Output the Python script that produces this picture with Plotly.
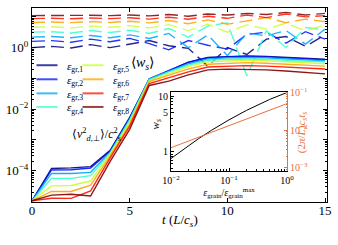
import plotly.graph_objects as go

# ---------------- data ----------------
t = list(range(16))
labels = ["<i>ε</i><sub>gr,%d</sub>" % i for i in range(1, 9)]
colors = ["#000080", "#0012ff", "#00a4ff", "#36ffc8", "#c8ff36", "#ffa400", "#ff1200", "#800000"]

# <v_{d,perp}^2>/c_s^2 (solid lines)
v2_e1 = [1.05e-5, 1.18e-4, 1.23e-4, 1.35e-4, 4.6e-4, 5.4e-3, 0.091, 0.175, 0.34, 0.48, 0.52, 0.54, 0.52, 0.48, 0.45, 0.42]
v2_e2 = [1.05e-5, 1.05e-4, 1.07e-4, 1.22e-4, 4.3e-4, 5.0e-3, 0.098, 0.18, 0.33, 0.47, 0.50, 0.52, 0.50, 0.47, 0.43, 0.40]
v2_e3 = [1.05e-5, 8.1e-5, 8.1e-5, 8.8e-5, 4.0e-4, 4.7e-3, 0.098, 0.175, 0.30, 0.43, 0.47, 0.48, 0.47, 0.43, 0.40, 0.376]
v2_e4 = [1.05e-5, 5.6e-5, 5.6e-5, 6.9e-5, 3.7e-4, 4.4e-3, 0.091, 0.163, 0.27, 0.39, 0.42, 0.43, 0.42, 0.39, 0.36, 0.34]
v2_e5 = [1.05e-5, 3.2e-5, 3.3e-5, 4.6e-5, 3.5e-4, 3.8e-3, 0.085, 0.146, 0.243, 0.35, 0.376, 0.39, 0.376, 0.35, 0.325, 0.30]
v2_e6 = [1.05e-5, 2.1e-5, 2.1e-5, 3.4e-5, 3.0e-4, 3.2e-3, 0.079, 0.126, 0.203, 0.29, 0.31, 0.325, 0.31, 0.29, 0.27, 0.25]
v2_e7 = [1.05e-5, 1.27e-5, 1.25e-5, 2.2e-5, 2.6e-4, 2.8e-3, 0.068, 0.106, 0.163, 0.234, 0.25, 0.26, 0.25, 0.234, 0.218, 0.203]
v2_e8 = [1.05e-5, 1.6e-5, 1.7e-5, 1.5e-5, 2.0e-4, 2.2e-3, 0.059, 0.082, 0.13, 0.19, 0.20, 0.20, 0.19, 0.175, 0.157, 0.14]

# <w_s> (dashed lines)
ws_e1 = [1.0, 1.1, 0.98, 1.25, 1.0, 1.3, 1.7, 1.15, 0.95, 0.25, 1.0, 0.6, 1.9, 2.3, 1.1, 2.6]
ws_e2 = [1.6, 1.7, 1.5, 1.9, 1.55, 2.0, 1.35, 0.85, 1.7, 1.2, 0.9, 2.7, 3.2, 1.4, 3.3, 1.9]
ws_e3 = [2.2, 2.3, 2.1, 2.5, 2.1, 2.6, 2.0, 2.9, 1.0, 2.6, 0.55, 3.0, 2.4, 3.6, 1.3, 4.0]
ws_e4 = [3.2, 3.3, 3.0, 3.6, 3.1, 3.7, 2.9, 4.2, 2.2, 5.0, 6.5, 0.12, 3.5, 1.0, 4.5, 3.8]
ws_e5 = [4.6, 4.8, 4.4, 5.0, 4.6, 5.2, 4.4, 5.6, 3.6, 5.8, 3.2, 5.5, 4.0, 6.3, 3.5, 5.5]
ws_e6 = [6.6, 6.8, 6.5, 7.0, 6.6, 7.2, 6.4, 7.6, 6.0, 8.0, 5.8, 7.5, 9.5, 6.5, 8.5, 7.0]
ws_e7 = [8.8, 9.0, 8.7, 9.2, 8.8, 9.4, 8.5, 9.8, 8.4, 10.5, 9.0, 11.5, 9.5, 12.5, 10.0, 11.0]
ws_e8 = [11.0, 11.2, 10.9, 11.3, 11.0, 11.5, 10.8, 12.0, 10.5, 12.5, 11.5, 13.0, 12.0, 14.0, 11.5, 13.0]

v2_all = [v2_e1, v2_e2, v2_e3, v2_e4, v2_e5, v2_e6, v2_e7, v2_e8]
ws_all = [ws_e1, ws_e2, ws_e3, ws_e4, ws_e5, ws_e6, ws_e7, ws_e8]

# inset
eps_ratio = [0.01, 0.02, 0.03, 0.05, 0.1, 0.2, 0.3, 0.5, 1.0]
ws_inset = [0.75, 1.28, 1.72, 2.43, 3.75, 5.55, 6.85, 8.75, 11.7]
ts_inset = [3.4e-3, 5.1e-3, 6.5e-3, 8.75e-3, 0.0132, 0.0198, 0.0252, 0.0341, 0.0513]

main_yticks = [1e-5, 1e-4, 1e-3, 1e-2, 1e-1, 1, 10]
main_yticktext = ["", "10<sup>−4</sup>", "", "10<sup>−2</sup>", "", "10<sup>0</sup>", ""]
main_xticks = [0, 5, 10, 15]

# ---------------- figure ----------------
FONT = "Liberation Serif"
ORANGE = "#e8703a"
W, H = 338, 245
L, R, T, B = 32, 11, 2, 43
PW, PH = W - L - R, H - T - B


def px2x(px):
    return (px - L) / PW


def px2y(py):
    return (H - B - py) / PH


fig = go.Figure()

for i in range(8):
    fig.add_trace(go.Scatter(x=t, y=ws_all[i], mode="lines", showlegend=False,
                             line=dict(color=colors[i], width=1.4, dash="13px,6px"),
                             opacity=0.85, hoverinfo="skip"))
for i in range(8):
    fig.add_trace(go.Scatter(x=t, y=v2_all[i], mode="lines", showlegend=False,
                             line=dict(color=colors[i], width=1.4),
                             opacity=0.9, hoverinfo="skip"))

legend_names = ["legend"] + ["legend%d" % k for k in range(2, 9)]
for i in range(8):
    fig.add_trace(go.Scatter(x=[None], y=[None], mode="markers", name=labels[i],
                             legend=legend_names[i], showlegend=True,
                             marker=dict(symbol="line-ew", size=15, color=colors[i],
                                         line=dict(width=2, color=colors[i])),
                             opacity=0.75, hoverinfo="skip"))

# inset traces
fig.add_trace(go.Scatter(x=eps_ratio, y=ws_inset, xaxis="x2", yaxis="y2", mode="lines",
                         line=dict(color="black", width=1), showlegend=False, hoverinfo="skip"))
fig.add_trace(go.Scatter(x=eps_ratio, y=ts_inset, xaxis="x2", yaxis="y3", mode="lines",
                         line=dict(color=ORANGE, width=1), showlegend=False, hoverinfo="skip"))

axis_common = dict(showgrid=False, zeroline=False, showline=True, linecolor="black", linewidth=1,
                   ticks="inside", tickcolor="black", tickwidth=1)

layout = dict(
    width=W, height=H,
    margin=dict(l=L, r=R, t=T, b=B),
    paper_bgcolor="white", plot_bgcolor="white",
    font=dict(family=FONT, size=13, color="black"),
    xaxis=dict(**axis_common, domain=[0, 1], range=[0, 15.1], tickvals=main_xticks,
               ticklen=4, mirror="allticks", tickfont=dict(size=13), ticklabelstandoff=-4),
    yaxis=dict(**axis_common, domain=[0, 1], type="log", range=[-5.02, 1.29],
               tickvals=main_yticks, ticktext=main_yticktext, ticklen=4, mirror="allticks",
               tickfont=dict(size=13),
               minor=dict(ticks="inside", ticklen=2, tickcolor="black", dtick="D1", showgrid=False)),
    xaxis2=dict(**axis_common, domain=[px2x(171), px2x(287)], anchor="y2", type="log",
                range=[-2, 0], tickvals=[0.01, 0.1, 1],
                ticktext=["10<sup>−2</sup>", "10<sup>−1</sup>", "10<sup>0</sup>"],
                ticklen=3, mirror=True, tickfont=dict(size=10),
                minor=dict(ticks="inside", ticklen=1.5, tickcolor="black", dtick="D1", showgrid=False),
                title=dict(text="<i>ε</i><sub>grain</sub>/<i>ε</i><sub>grain</sub><sup>max</sup>",
                           font=dict(size=10), standoff=2)),
    yaxis2=dict(**axis_common, domain=[px2y(170), px2y(89)], anchor="x2", type="log",
                range=[-0.35, 1.07], tickvals=[1, 5, 10], ticktext=["1", "5", "10"],
                ticklen=3, tickfont=dict(size=10),
                minor=dict(ticks="inside", ticklen=1.5, tickcolor="black", dtick="D1", showgrid=False)),
    yaxis3=dict(showgrid=False, zeroline=False, showline=True, linecolor=ORANGE, linewidth=1,
                ticks="inside", tickcolor=ORANGE, tickwidth=1,
                overlaying="y2", side="right", anchor="x2", type="log", range=[-3.09, -0.99],
                tickvals=[1e-3, 1e-2, 1e-1],
                ticktext=["10<sup>−3</sup>", "10<sup>−2</sup>", "10<sup>−1</sup>"],
                ticklen=3, tickfont=dict(size=10, color=ORANGE),
                minor=dict(ticks="inside", ticklen=1.5, tickcolor=ORANGE, dtick="D1", showgrid=False)),
    annotations=[
        dict(text="<i>t</i> (<i>L</i>/<i>c<sub>s</sub></i>)", x=px2x(180), y=px2y(232),
             xref="paper", yref="paper", showarrow=False, font=dict(size=13)),
        dict(text="⟨<i>w<sub>s</sub></i>⟩", x=px2x(142), y=px2y(48), xref="paper", yref="paper",
             showarrow=False, font=dict(size=14)),
        dict(text="⟨<i>v</i><sup>2</sup><sub><i>d</i>,⊥</sub>⟩/<i>c</i><sup>2</sup><sub>s</sub>",
             x=px2x(70), y=px2y(143), xref="paper", yref="paper", showarrow=False, font=dict(size=12)),
        dict(text="<i>w<sub>s</sub></i>", x=px2x(156), y=px2y(122), xref="paper", yref="paper",
             showarrow=False, textangle=-90, font=dict(size=11)),
        dict(text="(2<i>π</i>/<i>L</i>)<i>c<sub>s</sub>t<sub>s</sub></i>", x=px2x(311), y=px2y(130),
             xref="paper", yref="paper", showarrow=False, textangle=-90,
             font=dict(size=11, color=ORANGE)),
    ],
)

rows_y = [61, 75.5, 90, 104]
for i, name in enumerate(legend_names):
    col_x = 27 if i < 4 else 73
    layout[name] = dict(x=px2x(col_x), y=px2y(rows_y[i % 4]), xanchor="left", yanchor="middle",
                        orientation="v", bgcolor="rgba(0,0,0,0)", borderwidth=0,
                        font=dict(size=11), itemclick=False, itemdoubleclick=False)

fig.update_layout(**layout)
fig.write_html("out.html", config={"displayModeBar": False},
               post_script="document.body.style.margin='0';document.body.style.overflow='hidden';")
